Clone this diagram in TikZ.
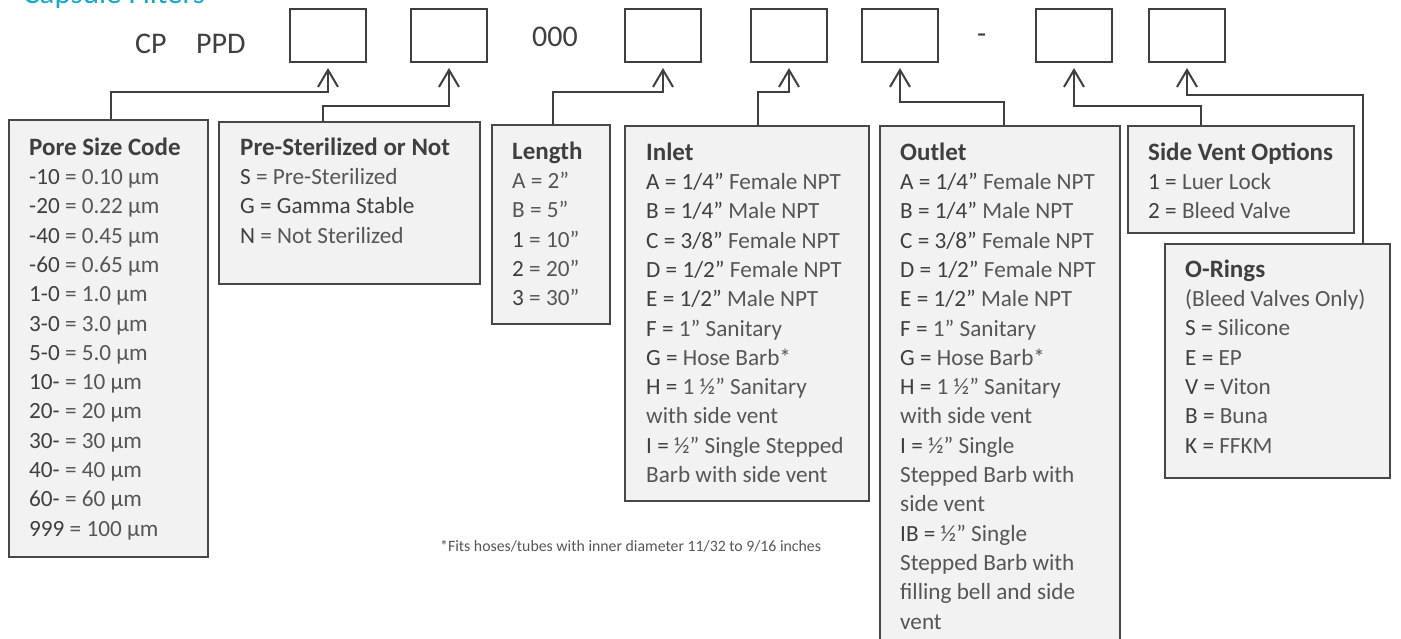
\documentclass[tikz,border=0pt]{standalone}
\usepackage{fontspec}
\setmainfont{Carlito}
\usetikzlibrary{arrows.meta}
\definecolor{ink}{HTML}{3F3F3F}
\definecolor{lite}{HTML}{565656}
\definecolor{boxfill}{HTML}{F2F2F2}
\definecolor{edge}{HTML}{474747}
\definecolor{cyanT}{HTML}{1AA9C5}
\newcommand{\hd}[1]{{\fontsize{25}{29.3}\selectfont\bfseries\color{ink}#1}}
\newcommand{\cd}[1]{{\color{ink}#1}}
\newcommand{\fst}{\rule{0pt}{20pt}}
\tikzset{
  x=1pt, y=-1pt,
  codebox/.style={draw=ink, line width=2pt, fill=white, minimum width=76pt, minimum height=53pt, inner sep=0pt, anchor=north west},
  infobox/.style={draw=edge, line width=2pt, fill=boxfill, inner sep=0pt, anchor=north west},
  txt/.style={anchor=north west, inner sep=0pt, align=left, text=lite, font=\fontsize{23.2}{29.3}\selectfont},
  toptxt/.style={anchor=base west, inner sep=0pt, text=ink, font=\fontsize{30}{30}\selectfont},
  conn/.style={draw=ink, line width=2pt, line join=miter, shorten >=5pt, -{Straight Barb[length=17pt,width=20pt,line width=2pt]}}
}
\begin{document}
\begin{tikzpicture}
\useasboundingbox (0,0) rectangle (1401,638);
\clip (0,0) rectangle (1401,638);
% title (cut off at top)
\node[anchor=base west, inner sep=0pt, text=cyanT, font=\fontsize{31}{31}\selectfont] (title) at (23,3) {Capsule Filters};
% part number row
\node[toptxt] (cp) at (135,53) {CP};
\node[toptxt] (ppd) at (196,53) {PPD};
\node[toptxt] (zeros) at (532,46) {000};
\node[toptxt] (dash) at (977,43) {-};
\node[codebox] (b1) at (289,8) {};
\node[codebox] (b2) at (410,8) {};
\node[codebox] (b3) at (624,8) {};
\node[codebox] (b4) at (750,8) {};
\node[codebox] (b5) at (861,8) {};
\node[codebox] (b6) at (1035,8) {};
\node[codebox] (b7) at (1148,8) {};
% info boxes
\node[infobox, minimum width=199pt, minimum height=437pt] (pore) at (8,119) {};
\node[infobox, minimum width=261pt, minimum height=162pt] (pre) at (218,121) {};
\node[infobox, minimum width=118pt, minimum height=199pt] (len) at (491,124) {};
\node[infobox, minimum width=244pt, minimum height=375pt] (inlet) at (624,125) {};
\node[infobox, minimum width=240pt, minimum height=540pt] (outlet) at (879,125) {};
\node[infobox, minimum width=226pt, minimum height=107pt] (side) at (1127,125) {};
\node[infobox, minimum width=225pt, minimum height=234pt] (oring) at (1164,243) {};
% texts
\node[txt] (poretxt) at (29,135) {\fst\hd{Pore Size Code}\\
\cd{-10} = 0.10 µm\\
\cd{-20} = 0.22 µm\\
\cd{-40} = 0.45 µm\\
\cd{-60} = 0.65 µm\\
\cd{1-0} = 1.0 µm\\
\cd{3-0} = 3.0 µm\\
\cd{5-0} = 5.0 µm\\
\cd{10-} = 10 µm\\
\cd{20-} = 20 µm\\
\cd{30-} = 30 µm\\
\cd{40-} = 40 µm\\
\cd{60-} = 60 µm\\
\cd{999} = 100 µm};
\node[txt] (pretxt) at (240,135) {\fst\hd{Pre-Sterilized or Not}\\
\cd{S} = Pre-Sterilized\\
\cd{G = Gamma Stable}\\
\cd{N} = Not Sterilized};
\node[txt] (lentxt) at (512,139) {\fst\hd{Length}\\
A = 2”\\
B = 5”\\
\cd{1} = 10”\\
\cd{2} = 20”\\
\cd{3} = 30”};
\node[txt] (inlettxt) at (646,140) {\fst\hd{Inlet}\\
\cd{A = 1/4”} Female NPT\\
\cd{B = 1/4”} Male NPT\\
\cd{C = 3/8”} Female NPT\\
\cd{D = 1/2”} Female NPT\\
\cd{E = 1/2”} Male NPT\\
\cd{F =} 1” Sanitary\\
\cd{G =} Hose Barb*\\
\cd{H =} 1 ½” Sanitary\\
with side vent\\
\cd{I =} ½” Single Stepped\\
Barb with side vent};
\node[txt] (outlettxt) at (900,140) {\fst\hd{Outlet}\\
\cd{A = 1/4”} Female NPT\\
\cd{B = 1/4”} Male NPT\\
\cd{C = 3/8”} Female NPT\\
\cd{D = 1/2”} Female NPT\\
\cd{E = 1/2”} Male NPT\\
\cd{F =} 1” Sanitary\\
\cd{G =} Hose Barb*\\
\cd{H =} 1 ½” Sanitary\\
with side vent\\
\cd{I =} ½” Single\\
Stepped Barb with\\
side vent\\
\cd{IB =} ½” Single\\
Stepped Barb with\\
filling bell and side\\
vent};
\node[txt] (sidetxt) at (1148,140) {\fst\hd{Side Vent Options}\\
\cd{1 =} Luer Lock\\
\cd{2 =} Bleed Valve};
\node[txt] (oringtxt) at (1185,257) {\fst\hd{O-Rings}\\
(Bleed Valves Only)\\
\cd{S =} Silicone\\
\cd{E =} EP\\
\cd{V =} Viton\\
\cd{B =} Buna\\
\cd{K =} FFKM};
\node[anchor=base west, inner sep=0pt, text=lite, font=\fontsize{15.8}{15.8}\selectfont] (note) at (440,551) {*Fits hoses/tubes with inner diameter 11/32 to 9/16 inches};
% connectors
\coordinate (k1) at (111,92);
\coordinate (k2) at (323,106);
\coordinate (k3) at (553,92);
\coordinate (k4) at (758,92);
\coordinate (k5) at (1004,102);
\coordinate (k6) at (1201,106);
\coordinate (k7) at (1363,95);
\draw[conn] (pore.north -| k1) -- (k1) -| (b1.south);
\draw[conn] (pre.north -| k2) -- (k2) -| (b2.south);
\draw[conn] (len.north -| k3) -- (k3) -| (b3.south);
\draw[conn] (inlet.north -| k4) -- (k4) -| (b4.south);
\draw[conn] (outlet.north -| k5) -- (k5) -| (b5.south);
\draw[conn] (side.north -| k6) -- (k6) -| (b6.south);
\draw[conn] (oring.north -| k7) -- (k7) -| (b7.south);
\end{tikzpicture}
\end{document}
